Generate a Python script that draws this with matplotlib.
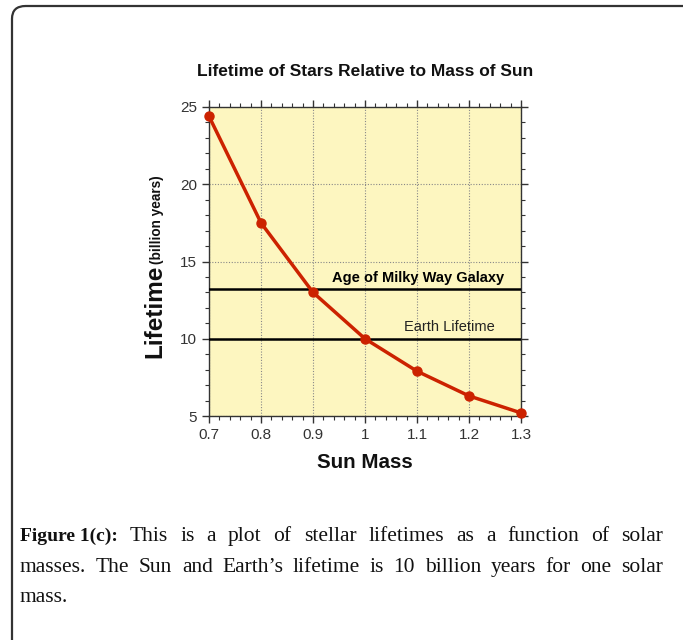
import matplotlib
matplotlib.use("Agg")
import matplotlib.pyplot as plt
from matplotlib.patches import FancyBboxPatch
from matplotlib.ticker import MultipleLocator

# data
sun_mass = [0.7, 0.8, 0.9, 1.0, 1.1, 1.2, 1.3]
lifetime = [24.4, 17.5, 13.0, 10.0, 7.9, 6.3, 5.2]
milky_way_age = 13.2
earth_lifetime = 10.0

x_ticks = [0.7, 0.8, 0.9, 1.0, 1.1, 1.2, 1.3]
x_tick_labels = ["0.7", "0.8", "0.9", "1", "1.1", "1.2", "1.3"]
y_ticks = [5, 10, 15, 20, 25]

caption_lines = [
    "This is a plot of stellar lifetimes as a function of solar",
    "masses. The Sun and Earth\u2019s lifetime is 10 billion years for one solar",
    "mass.",
]

W, H = 683, 640
fig = plt.figure(figsize=(W / 100, H / 100), dpi=100)
fig.patch.set_facecolor("white")

# page frame (only left/top visible)
frame = FancyBboxPatch((12 / W, -0.1), 1.2, 1 - 6 / H + 0.1,
                       boxstyle="round,pad=0,rounding_size=0.02",
                       transform=fig.transFigure, fill=False,
                       edgecolor="#333333", linewidth=1.6, clip_on=False)
fig.patches.append(frame)

ax = fig.add_axes([209 / W, 1 - 416 / H, (521 - 209) / W, (416 - 107) / H])
ax.set_facecolor("#fdf6c0")

ax.plot(sun_mass, lifetime, color="#cc2200", lw=2.5, marker="o", ms=6.5,
        zorder=4, clip_on=False)
ax.axhline(milky_way_age, color="black", lw=1.8, zorder=3)
ax.axhline(earth_lifetime, color="black", lw=1.8, zorder=3)
ax.text(1.102, milky_way_age + 0.3, "Age of Milky Way Galaxy", ha="center",
        va="bottom", fontsize=10.5, fontweight="bold", family="Liberation Sans",
        color="black")
ax.text(1.163, earth_lifetime + 0.3, "Earth Lifetime", ha="center", va="bottom",
        fontsize=10.5, family="Liberation Sans", color="#222222")

ax.set_xlim(0.7, 1.3)
ax.set_ylim(5, 25)
ax.set_xticks(x_ticks)
ax.set_xticklabels(x_tick_labels)
ax.set_yticks(y_ticks)
ax.xaxis.set_minor_locator(MultipleLocator(0.02))
ax.yaxis.set_minor_locator(MultipleLocator(1))
ax.tick_params(which="both", direction="out", top=True, right=True,
               colors="#333333", labelcolor="#333333", labelsize=11)
ax.tick_params(which="major", length=5, width=1)
ax.tick_params(which="minor", length=3, width=0.8)
for lab in ax.get_xticklabels() + ax.get_yticklabels():
    lab.set_family("Liberation Sans")
for s in ax.spines.values():
    s.set_color("#333333")
    s.set_linewidth(1.0)
ax.grid(True, which="major", color="#888888", linestyle=(0, (1, 1.5)), lw=0.8)
ax.set_axisbelow(True)

fig.text(365 / W, 1 - 72 / H, "Lifetime of Stars Relative to Mass of Sun",
         ha="center", va="center", fontsize=12.5, fontweight="bold",
         family="Liberation Sans", color="#111111")
fig.text(365 / W, 1 - 463 / H, "Sun Mass", ha="center", va="center",
         fontsize=14.8, fontweight="bold", family="Liberation Sans", color="#111111")
fig.text(155 / W, 1 - 358 / H, "Lifetime", rotation=90, ha="center",
         va="bottom", fontsize=17.5, fontweight="bold", family="Liberation Sans",
         color="#111111")
fig.text(157 / W, 1 - 264 / H, "(billion years)", rotation=90, ha="center",
         va="bottom", fontsize=9.8, fontweight="bold", family="Liberation Sans",
         color="#111111")

# justified caption
renderer = fig.canvas.get_renderer()
left_px, right_px = 20, 663
line_y = [541, 572, 602]
cap_font = dict(family="Liberation Serif", color="#111111", va="baseline")
for i, line in enumerate(caption_lines):
    words = line.split(" ")
    if i == 0:
        words = ["Figure 1(c):"] + words
    texts = []
    for j, w in enumerate(words):
        bold = (i == 0 and j == 0)
        t = fig.text(0, 1 - line_y[i] / H, w,
                     fontweight="bold" if bold else "normal",
                     fontsize=14 if bold else 15.5, **cap_font)
        texts.append(t)
    widths = [t.get_window_extent(renderer).width for t in texts]
    if i < len(caption_lines) - 1:
        gap = (right_px - left_px - sum(widths)) / (len(words) - 1)
    else:
        gap = 5
    x = left_px
    for t, wd in zip(texts, widths):
        t.set_x(x / W)
        x += wd + gap

fig.savefig("out.png", dpi=100)
